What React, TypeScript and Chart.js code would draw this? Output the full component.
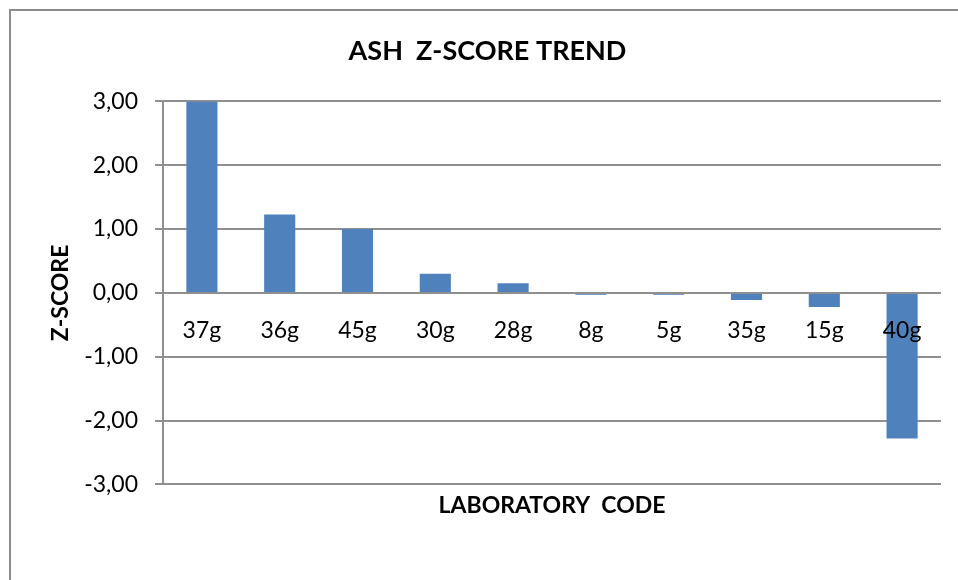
import React, { useEffect, useRef } from "react";
import { Chart, registerables } from "chart.js";

Chart.register(...registerables);

const labCodes = ["37g", "36g", "45g", "30g", "28g", "8g", "5g", "35g", "15g", "40g"];
const zScores = [3.0, 1.23, 1.0, 0.3, 0.15, -0.03, -0.03, -0.11, -0.22, -2.28];
const yMin = -3;
const yMax = 3;
const yStep = 1;

const chartTitle = "ASH  Z-SCORE TREND";
const xTitle = "LABORATORY  CODE";
const yTitle = "Z-SCORE";

const FONT = "Lato, 'Open Sans', sans-serif";

const framePlugin = {
  id: "frame",
  beforeDraw(chart: any) {
    const ctx = chart.ctx;
    ctx.save();
    ctx.fillStyle = "#ffffff";
    ctx.fillRect(0, 0, chart.width, chart.height);
    ctx.strokeStyle = "#8c8c8c";
    ctx.lineWidth = 2;
    ctx.beginPath();
    ctx.moveTo(10, chart.height);
    ctx.lineTo(10, 10);
    ctx.lineTo(chart.width, 10);
    ctx.stroke();
    ctx.restore();
  },
};

export default function App() {
  const ref = useRef<HTMLCanvasElement | null>(null);

  useEffect(() => {
    if (!ref.current) return;
    const chart = new Chart(ref.current, {
      type: "bar",
      data: {
        labels: labCodes,
        datasets: [
          {
            data: zScores,
            backgroundColor: "#4F81BD",
            barPercentage: 0.4,
            categoryPercentage: 1,
          },
        ],
      },
      options: {
        animation: false,
        responsive: false,
        maintainAspectRatio: false,
        layout: { padding: { left: 17, right: 0, top: 0, bottom: 0 } },
        plugins: {
          legend: { display: false },
          tooltip: { enabled: false },
          title: {
            display: true,
            text: chartTitle,
            color: "#000",
            font: { family: FONT, size: 27, weight: "bold" },
            padding: { top: 35, bottom: 34 },
          },
          subtitle: {
            display: true,
            text: xTitle,
            position: "bottom",
            fullSize: false,
            color: "#000",
            font: { family: FONT, size: 23, weight: "bold" },
            padding: { top: 7, bottom: 61 },
          },
        },
        scales: {
          x: {
            position: { y: 0 } as any,
            grid: { display: false },
            border: { display: false },
            ticks: {
              z: 1,
              color: "#000",
              font: { family: FONT, size: 23 },
              padding: 16,
              maxRotation: 0,
              autoSkip: false,
            },
            afterFit(scale: any) {
              scale.height = 0;
            },
          },
          y: {
            min: yMin,
            max: yMax,
            grid: {
              color: "#8f8f8f",
              lineWidth: 2,
              tickLength: 8,
            },
            border: { display: true, color: "#8f8f8f", width: 2 },
            ticks: {
              stepSize: yStep,
              color: "#000",
              font: { family: FONT, size: 23 },
              padding: 17,
              callback: (v: any) => Number(v).toFixed(2).replace(".", ","),
            },
            title: {
              display: true,
              text: yTitle,
              color: "#000",
              font: { family: FONT, size: 23, weight: "bold" },
              padding: { top: 30, bottom: 0 },
            },
            afterFit(scale: any) {
              scale.width = 146;
            },
          },
          spacer: {
            type: "linear",
            axis: "y",
            position: "right",
            display: true,
            grid: { display: false },
            border: { display: false },
            ticks: { display: false },
            afterFit(scale: any) {
              scale.width = 17;
            },
          } as any,
        },
      },
      plugins: [framePlugin],
    });
    return () => chart.destroy();
  }, []);

  return (
    <div style={{ position: "absolute", left: 0, top: 0, width: 958, height: 580 }}>
      <canvas ref={ref} width={958} height={580} style={{ display: "block" }} />
    </div>
  );
}
